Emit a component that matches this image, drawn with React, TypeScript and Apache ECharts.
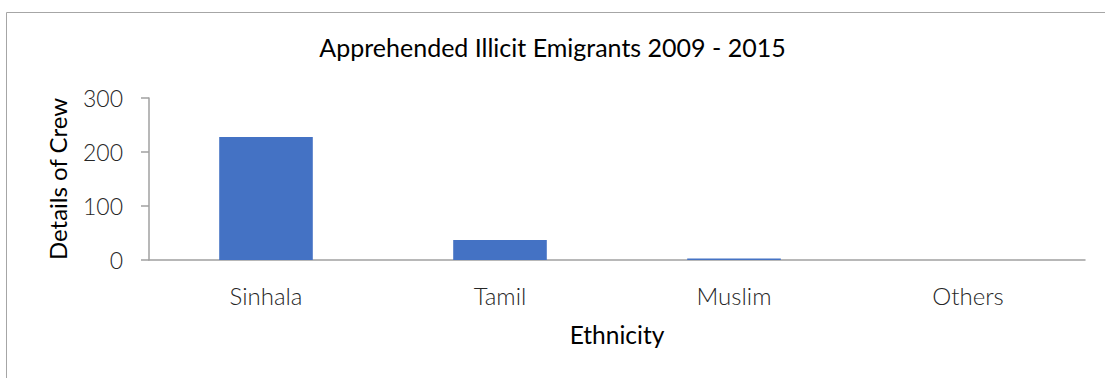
import React, { useEffect, useRef } from "react";
import * as echarts from "echarts";

const categories = ["Sinhala", "Tamil", "Muslim", "Others"];
const crewValues = [228, 37, 3, 0];
const yTicks = [0, 100, 200, 300];
const titleText = "Apprehended Illicit Emigrants 2009 - 2015";
const yAxisName = "Details of Crew";
const xAxisName = "Ethnicity";

export default function App() {
  const ref = useRef<HTMLDivElement>(null);
  useEffect(() => {
    if (!ref.current) return;
    const chart = echarts.init(ref.current, null, { renderer: "svg" });
    const font = "Lato, 'Open Sans', sans-serif";
    chart.setOption({
      animation: false,
      backgroundColor: "#ffffff",
      title: {
        text: titleText,
        left: "center",
        top: 29,
        textStyle: { fontFamily: font, fontSize: 25, fontWeight: "normal", color: "#000" },
      },
      graphic: [
        {
          type: "rect",
          left: 4,
          top: 10,
          shape: { width: 1200, height: 500 },
          style: { fill: "none", stroke: "#a6a6a6", lineWidth: 1 },
          silent: true,
        },
      ],
      grid: { left: 149, right: 20, top: 98, bottom: 118 },
      xAxis: {
        type: "category",
        data: categories,
        name: xAxisName,
        nameLocation: "middle",
        nameGap: 62,
        nameTextStyle: { fontFamily: font, fontSize: 24.5, color: "#000" },
        axisLine: { lineStyle: { color: "#a0a0a0", width: 1.5 } },
        axisTick: { show: false },
        axisLabel: { fontFamily: font, fontSize: 24, fontWeight: 300, color: "#262626", margin: 23 },
      },
      yAxis: {
        type: "value",
        min: yTicks[0],
        max: yTicks[yTicks.length - 1],
        interval: 100,
        name: yAxisName,
        nameLocation: "middle",
        nameGap: 80,
        nameTextStyle: { fontFamily: font, fontSize: 24, color: "#000" },
        axisLine: { show: true, lineStyle: { color: "#a0a0a0", width: 1.5 } },
        axisTick: { show: true, length: 8, lineStyle: { color: "#a0a0a0", width: 1.5 } },
        splitLine: { show: false },
        axisLabel: { fontFamily: font, fontSize: 23, fontWeight: 300, color: "#262626", margin: 26 },
      },
      series: [
        {
          type: "bar",
          data: crewValues,
          barWidth: "40%",
          itemStyle: { color: "#4472c4" },
        },
      ],
    });
    return () => chart.dispose();
  }, []);
  return (
    <div
      ref={ref}
      style={{ position: "fixed", left: 0, top: 0, width: 1105, height: 378 }}
    />
  );
}
